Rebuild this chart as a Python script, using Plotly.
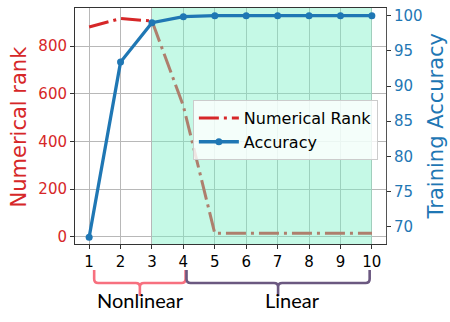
import plotly.graph_objects as go

# ---- data ----
layers = [1, 2, 3, 4, 5, 6, 7, 8, 9, 10]
numerical_rank = [880, 915, 905, 548, 14, 14, 14, 14, 14, 14]
accuracy = [68.5, 93.4, 99.0, 99.85, 100, 100, 100, 100, 100, 100]
x_ticks = [1, 2, 3, 4, 5, 6, 7, 8, 9, 10]
rank_ticks = [0, 200, 400, 600, 800]
acc_ticks = [70, 75, 80, 85, 90, 95, 100]
linear_span = [3, 10]
rank_range = [-30.6, 959.4]
acc_range = [67.54, 101.09]
x_range = [0.55, 10.45]

RED = "#d62728"
BLUE = "#1f77b4"
FONT = "DejaVu Sans"

fig = go.Figure()

# numerical rank (left axis), drawn under the shaded span
fig.add_trace(go.Scatter(
    x=layers, y=numerical_rank, mode="lines", name="Numerical Rank",
    line=dict(color=RED, width=3, dash="20px,5px,3px,5px"),
    xaxis="x", yaxis="y",
))

# shaded "linear" region (above rank line, below accuracy)
fig.add_trace(go.Scatter(
    x=[linear_span[0], linear_span[1], linear_span[1], linear_span[0], linear_span[0]],
    y=[rank_range[0], rank_range[0], rank_range[1], rank_range[1], rank_range[0]],
    mode="lines", fill="toself", fillcolor="rgba(123,241,198,0.44)",
    line=dict(width=0), showlegend=False, hoverinfo="skip",
    xaxis="x", yaxis="y",
))

# accuracy (right axis)
fig.add_trace(go.Scatter(
    x=layers, y=accuracy, mode="lines+markers", name="Accuracy",
    line=dict(color=BLUE, width=3.3), marker=dict(color=BLUE, size=7),
    xaxis="x", yaxis="y2",
))

# braces under the x axis
def brace(x0, x1, color):
    yt, yh, ytip = -0.110, -0.165, -0.220
    dx, dy = 0.13, 0.017
    xc = (x0 + x1) / 2
    path = (f"M {x0},{yt} L {x0},{yh+dy} Q {x0},{yh} {x0+dx},{yh} "
            f"L {xc-dx},{yh} Q {xc},{yh} {xc},{yh-dy} L {xc},{ytip} "
            f"M {xc},{yh-dy} Q {xc},{yh} {xc+dx},{yh} "
            f"L {x1-dx},{yh} Q {x1},{yh} {x1},{yh+dy} L {x1},{yt}")
    return dict(type="path", path=path, xref="x", yref="paper",
                line=dict(color=color, width=2.6))

fig.add_shape(brace(1.16, 4.07, "#f7707f"))
fig.add_shape(brace(4.10, 9.93, "#6b5880"))

annotations = [
    dict(text="Nonlinear", x=2.63, y=-0.297, xref="x", yref="paper",
         showarrow=False, font=dict(family="Lato", size=20, color="black")),
    dict(text="Linear", x=7.47, y=-0.297, xref="x", yref="paper",
         showarrow=False, font=dict(family="Lato", size=20, color="black")),
    dict(text="Numerical rank", x=-0.1786, y=0.5, xref="paper", yref="paper",
         textangle=-90, showarrow=False, xanchor="center", yanchor="middle",
         font=dict(family=FONT, size=21, color=RED)),
    dict(text="Training Accuracy", x=1.162, y=0.5, xref="paper", yref="paper",
         textangle=-90, showarrow=False, xanchor="center", yanchor="middle",
         font=dict(family=FONT, size=21, color=BLUE)),
]

fig.update_layout(
    width=450, height=322,
    margin=dict(l=75, r=64, t=8, b=78),
    plot_bgcolor="white", paper_bgcolor="white",
    font=dict(family=FONT, size=15, color="black"),
    showlegend=True,
    legend=dict(x=0.379, y=0.61, xanchor="left", yanchor="top",
                bgcolor="rgba(255,255,255,0.8)", bordercolor="#cccccc",
                borderwidth=1, font=dict(family=FONT, size=16, color="black"),
                tracegroupgap=0, itemwidth=40),
    xaxis=dict(range=x_range, tickvals=x_ticks, showgrid=True,
               gridcolor="#b8b8b8", gridwidth=1, zeroline=False,
               showline=True, linecolor="#333", linewidth=1, mirror=True,
               ticks="outside", ticklen=4, tickcolor="#333",
               tickfont=dict(size=15, color="black")),
    yaxis=dict(range=rank_range, tickvals=rank_ticks, showgrid=True,
               gridcolor="#b8b8b8", gridwidth=1, zeroline=False,
               showline=True, linecolor="#333", linewidth=1,
               ticks="outside", ticklen=4, tickcolor="#333",
               tickfont=dict(size=15, color=RED)),
    yaxis2=dict(range=acc_range, tickvals=acc_ticks, overlaying="y",
                side="right", showgrid=False, zeroline=False,
                showline=True, linecolor="#555", linewidth=1,
                ticks="outside", ticklen=4, tickcolor="#333",
                tickfont=dict(size=15, color=BLUE)),
    annotations=annotations,
)

fig.write_html(
    "out.html",
    config={"displayModeBar": False},
    post_script="document.body.style.margin='0px';document.body.style.overflow='hidden';",
)
